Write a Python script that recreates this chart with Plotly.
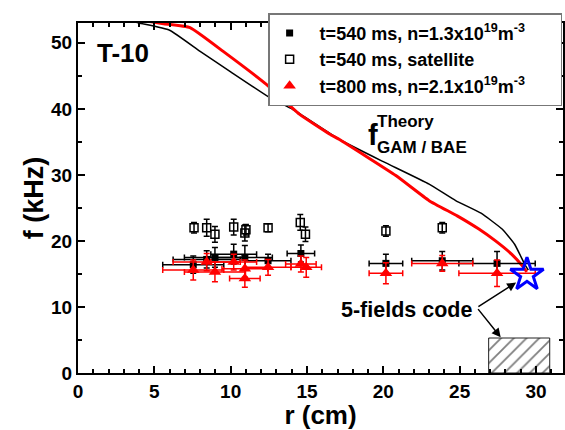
import plotly.graph_objects as go

# ---- data ----
theory_540_r = [3.0, 4.0, 6.0, 8.0, 10.0, 12.56, 14.08, 17.1, 20.0, 23.0, 24.74, 26.4, 27.78, 28.6, 29.3, 29.5]
theory_540_f = [53.6, 53.0, 51.9, 48.7, 45.6, 41.7, 39.9, 35.4, 32.0, 28.6, 26.1, 24.2, 21.8, 19.5, 16.3, 15.6]

theory_800_r = [4.5, 5.6, 7.34, 9.51, 12.34, 14.5, 16.47, 17.1, 20.82, 23.0, 24.84, 26.26, 27.35, 28.4, 29.08, 29.4]
theory_800_f = [53.3, 52.9, 52.3, 48.7, 43.7, 39.2, 36.2, 35.4, 29.9, 26.1, 23.8, 21.8, 20.0, 18.0, 16.3, 15.3]

b540_r = [7.55, 8.43, 8.97, 10.2, 10.93, 12.45, 14.6, 20.17, 23.86, 27.45]
b540_f = [16.4, 17.2, 17.5, 18.0, 17.5, 17.0, 18.1, 16.6, 17.0, 16.6]
b540_dr = [2.0, 2.2, 2.0, 1.5, 1.8, 1.5, 0.9, 1.1, 2.0, 2.5]
b540_df = [1.3, 1.3, 1.5, 1.5, 1.8, 1.0, 1.3, 1.4, 1.4, 1.8]

sat_r = [7.6, 8.43, 8.97, 10.2, 10.93, 11.0, 12.45, 14.56, 14.9, 20.17, 23.86]
sat_f = [22.0, 22.0, 21.0, 22.1, 21.2, 21.7, 22.0, 22.8, 21.0, 21.5, 22.0]
sat_df = [0.8, 1.3, 1.2, 1.2, 1.2, 0.8, 0.6, 1.2, 1.1, 0.8, 0.8]

r800_r = [7.55, 8.43, 8.97, 10.2, 10.93, 10.93, 12.45, 14.6, 14.95, 20.17, 23.86, 27.45]
r800_f = [15.6, 16.8, 15.3, 16.8, 15.8, 14.3, 16.0, 16.5, 16.0, 15.1, 16.6, 15.1]
r800_dr = [2.0, 2.2, 2.0, 1.5, 1.5, 1.0, 1.5, 1.0, 1.0, 1.1, 2.0, 2.5]
r800_df = [1.5, 1.3, 1.5, 1.2, 1.3, 1.3, 1.2, 1.2, 1.5, 1.6, 1.2, 2.0]

code_r = [29.41]
code_f = [14.9]

box_r = [26.9, 30.9, 30.9, 26.9, 26.9]
box_f = [0.0, 0.0, 5.3, 5.3, 0.0]

x_ticks = [0, 5, 10, 15, 20, 25, 30]
y_ticks = [0, 10, 20, 30, 40, 50]

legend_names = [
    "t=540 ms, n=1.3x10<sup>19</sup>m<sup>-3</sup>",
    "t=540 ms, satellite",
    "t=800 ms, n=2.1x10<sup>19</sup>m<sup>-3</sup>",
]

FONT = "Liberation Sans, Arial, sans-serif"
PAD_L = "&nbsp;&nbsp;"
PAD_R = "&nbsp;" * 6

fig = go.Figure()

# hatched box
fig.add_trace(go.Scatter(
    x=box_r, y=box_f, mode="lines", fill="toself",
    line=dict(color="#222", width=1),
    fillcolor="white",
    fillpattern=dict(shape="/", fgcolor="black", bgcolor="white", size=9, solidity=0.2),
    showlegend=False, hoverinfo="skip"))

# theory curves
fig.add_trace(go.Scatter(x=theory_540_r, y=theory_540_f, mode="lines",
                         line=dict(color="black", width=1.5, shape="spline", smoothing=0.4),
                         showlegend=False))
fig.add_trace(go.Scatter(x=theory_800_r, y=theory_800_f, mode="lines",
                         line=dict(color="red", width=3, shape="spline", smoothing=0.4),
                         showlegend=False))

# measurements
fig.add_trace(go.Scatter(
    x=b540_r, y=b540_f, mode="markers",
    name=PAD_L + legend_names[0] + PAD_R,
    marker=dict(symbol="square", size=7, color="black"),
    error_x=dict(type="data", array=b540_dr, color="black", thickness=1.5, width=3),
    error_y=dict(type="data", array=b540_df, color="black", thickness=1.5, width=3)))

fig.add_trace(go.Scatter(
    x=sat_r, y=sat_f, mode="markers",
    name=PAD_L + legend_names[1],
    marker=dict(symbol="square-open", size=8, color="black", line=dict(width=1.5)),
    error_y=dict(type="data", array=sat_df, color="black", thickness=1.5, width=3)))

fig.add_trace(go.Scatter(
    x=r800_r, y=r800_f, mode="markers",
    name=PAD_L + legend_names[2],
    marker=dict(symbol="triangle-up", size=11, color="red"),
    error_x=dict(type="data", array=r800_dr, color="red", thickness=1.5, width=3),
    error_y=dict(type="data", array=r800_df, color="red", thickness=1.5, width=3)))

# 5-fields code star
fig.add_trace(go.Scatter(
    x=code_r, y=code_f, mode="markers",
    marker=dict(symbol="star-open", size=25, color="#0000ff", line=dict(width=3, color="#0000ff")),
    showlegend=False))

axis_common = dict(
    showline=True, linecolor="black", linewidth=2, mirror="ticks",
    ticks="inside", ticklen=7, tickwidth=1.5, tickcolor="black",
    showgrid=False, zeroline=False,
    tickfont=dict(family=FONT, size=19, color="black", weight="bold"),
)

fig.update_xaxes(range=[0, 31.77], tickvals=x_ticks,
                 minor=dict(dtick=1, ticks="inside", ticklen=4, tickwidth=1.5, tickcolor="black"),
                 title=dict(text="r (cm)", font=dict(family=FONT, size=26, color="black", weight="bold"),
                            standoff=4),
                 **axis_common)
fig.update_yaxes(range=[0, 53], tickvals=y_ticks,
                 minor=dict(dtick=5, ticks="inside", ticklen=4, tickwidth=1.5, tickcolor="black"),
                 title=dict(text="f (kHz)", font=dict(family=FONT, size=27, color="black", weight="bold"),
                            standoff=0),
                 **axis_common)

ann_font = lambda s: dict(family=FONT, size=s, color="black", weight="bold")
annotations = [
    dict(x=1.1, y=48.4, text="T-10", showarrow=False, xanchor="left", yanchor="middle", font=ann_font(26)),
    dict(x=19.75, y=36.0, text="f", showarrow=False, xanchor="right", yanchor="middle", font=ann_font(29)),
    dict(x=19.45, y=38.1, text="Theory", showarrow=False, xanchor="left", yanchor="middle", font=ann_font(17)),
    dict(x=19.45, y=34.2, text="GAM / BAE", showarrow=False, xanchor="left", yanchor="middle", font=ann_font(17)),
    dict(x=17.1, y=9.5, text="5-fields code", showarrow=False, xanchor="left", yanchor="middle", font=ann_font(21.5)),
    dict(x=28.7, y=13.7, ax=26.13, ay=9.9, axref="x", ayref="y", xref="x", yref="y", text="",
         showarrow=True, arrowhead=2, arrowsize=1.2, arrowwidth=1.5, arrowcolor="black", standoff=0),
    dict(x=27.69, y=5.4, ax=26.13, ay=9.9, axref="x", ayref="y", xref="x", yref="y", text="",
         showarrow=True, arrowhead=2, arrowsize=1.2, arrowwidth=1.5, arrowcolor="black", standoff=0),
]

fig.update_layout(
    width=565, height=430,
    margin=dict(l=78, r=0, t=23, b=57),
    paper_bgcolor="white", plot_bgcolor="white",
    font=dict(family=FONT, color="black"),
    annotations=annotations,
    legend=dict(x=0.392, y=1.028, xanchor="left", yanchor="top",
                bgcolor="white", bordercolor="#777", borderwidth=1.5,
                font=dict(family=FONT, size=18, color="black", weight="bold"),
                itemwidth=30, tracegroupgap=0),
)

fig.write_html("out.html")
